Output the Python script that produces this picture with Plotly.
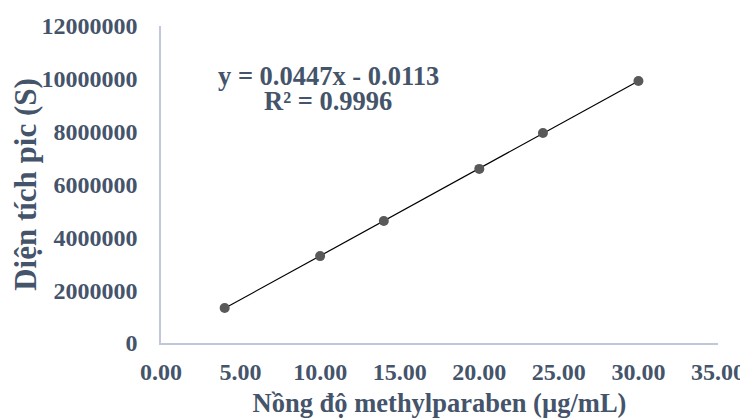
import numpy as np
import plotly.graph_objects as go

conc = [4, 10, 14, 20, 24, 30]
area = [1325000, 3290000, 4620000, 6590000, 7950000, 9920000]
x_ticks = [0, 5, 10, 15, 20, 25, 30, 35]
y_ticks = [0, 2000000, 4000000, 6000000, 8000000, 10000000, 12000000]
eq_line1 = "y = 0.0447x - 0.0113"
eq_line2 = "R² = 0.9996"

slope, intercept = np.polyfit(conc, area, 1)
fit_x = [min(conc), max(conc)]
fit_y = [slope * v + intercept for v in fit_x]

txt_col = "#44546A"
font_fam = "Liberation Serif, Times New Roman, serif"

fig = go.Figure()
fig.add_trace(go.Scatter(x=fit_x, y=fit_y, mode="lines",
                         line=dict(color="#000000", width=1.2), showlegend=False))
fig.add_trace(go.Scatter(x=conc, y=area, mode="markers",
                         marker=dict(color="#595959", size=10), showlegend=False))

ann_font = dict(family=font_fam, size=26.5, color=txt_col, weight="bold")
fig.add_annotation(x=10.5, y=10110000, xref="x", yref="y", text=eq_line1,
                   showarrow=False, font=ann_font)
fig.add_annotation(x=10.5, y=9160000, xref="x", yref="y", text=eq_line2,
                   showarrow=False, font=ann_font)

fig.update_layout(
    width=748, height=419,
    margin=dict(l=153, r=38, t=18, b=84),
    paper_bgcolor="white", plot_bgcolor="white",
    font=dict(family=font_fam, size=24, color=txt_col, weight="bold"),
    xaxis=dict(range=[0, 35], tickvals=x_ticks, tickformat=".2f",
               showgrid=False, zeroline=False, showline=True,
               linecolor="#BFC9D9", linewidth=1.5, ticks="",
               ticklabelstandoff=6, automargin=False,
               tickfont=dict(family=font_fam, size=24, color=txt_col, weight="bold"),
               title=dict(text="Nồng độ methylparaben (µg/mL)", standoff=10,
                          font=dict(family=font_fam, size=26.5, color=txt_col, weight="bold"))),
    yaxis=dict(range=[0, 12000000], tickvals=y_ticks, tickformat="d",
               showgrid=False, zeroline=False, showline=True,
               linecolor="#BFC9D9", linewidth=1.5, ticks="",
               ticklabelstandoff=17, automargin=False,
               tickfont=dict(family=font_fam, size=24, color=txt_col, weight="bold"),
               title=dict(text="Diện tích pic (S)", standoff=3,
                          font=dict(family=font_fam, size=31, color=txt_col, weight="bold"))),
)

fig.write_html("out.html")
